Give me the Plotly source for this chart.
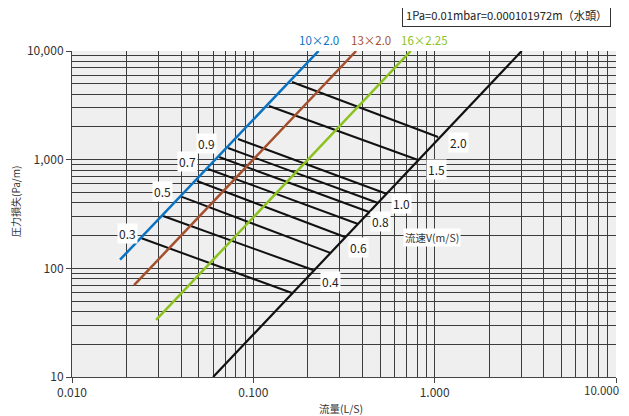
import plotly.graph_objects as go

# ---------------- data ----------------
pipe_names = ["10×2.0", "13×2.0", "16×2.25"]
pipe_q = [[0.0184, 0.229], [0.0220, 0.369], [0.0291, 0.738]]
pipe_r = [[120, 10000], [70, 10000], [33.5, 10000]]
pipe_colors = ["#0a72c2", "#a4502e", "#8cc21f"]

ref_q = [0.060, 3.02]
ref_r = [10, 10000]

vel_labels = ["0.3", "0.4", "0.5", "0.6", "0.7", "0.8", "0.9", "1.0", "1.5", "2.0"]
vel_q_start = [0.0240, 0.0318, 0.0404, 0.0489, 0.0563, 0.0647, 0.0725, 0.0823, 0.122, 0.1635]
vel_r_start = [190, 303, 454, 637, 821, 1058, 1281, 1550, 3118, 5184]
vel_q_end = [0.1635, 0.2135, 0.268, 0.320, 0.378, 0.435, 0.487, 0.546, 0.810, 1.044]
vel_r_end = [59.3, 96.5, 138, 194, 256, 330, 399, 483, 993, 1617]

x_tickvals = [0.01, 0.1, 1, 10]
x_ticktext = ["0.010", "0.100", "1.000", "10.000"]
y_tickvals = [10, 100, 1000, 10000]
y_ticktext = ["10", "100", "1,000", "10,000"]

# page body has an 8px margin, so the figure is offset by 8px
OFF = 8
PL, PR, PT, PB = 72, 616, 51, 377          # plot box in page pixels
PW, PH = PR - PL, PB - PT
W, H = 629, 416
ML, MT = PL - OFF, PT - OFF
MR = W - ML - PW
MB = H - MT - PH


def px(xpix, ypix):
    return (xpix - PL) / PW, (PB - ypix) / PH


FONT = "Noto Sans CJK JP"
fig = go.Figure()

for i in range(len(vel_labels)):
    fig.add_trace(go.Scatter(x=[vel_q_start[i], vel_q_end[i]], y=[vel_r_start[i], vel_r_end[i]],
                             mode="lines", line=dict(color="#111111", width=2), showlegend=False,
                             hoverinfo="skip"))

fig.add_trace(go.Scatter(x=ref_q, y=ref_r, mode="lines", line=dict(color="#111111", width=2.2),
                         showlegend=False, hoverinfo="skip"))

for name, q, r, c in zip(pipe_names, pipe_q, pipe_r, pipe_colors):
    fig.add_trace(go.Scatter(x=q, y=r, mode="lines", name=name, line=dict(color=c, width=2.5),
                             showlegend=False))

annotations = []


def add_text(xpix, ypix, text, size, color, **kw):
    xp, yp = px(xpix, ypix)
    d = dict(x=xp, y=yp, xref="paper", yref="paper", text=text, showarrow=False,
             xanchor="center", yanchor="middle",
             font=dict(family=FONT, size=size, color=color))
    d.update(kw)
    annotations.append(d)


left_pos = {"0.3": (127, 233), "0.5": (162, 191), "0.7": (187, 161), "0.9": (206, 143)}
right_pos = {"0.4": (330, 281), "0.6": (358, 247), "0.8": (380, 221), "1.0": (401, 204),
             "1.5": (436, 169), "2.0": (458, 142)}
for lab in vel_labels:
    p = left_pos.get(lab) or right_pos.get(lab)
    add_text(p[0], p[1], lab, 12, "#222", bgcolor="white", borderpad=1)

add_text(432, 237, "流速V(m/S)", 10.5, "#333", bgcolor="white", borderpad=1)

for name, c, cx in zip(pipe_names, pipe_colors, [318.5, 370.5, 424.5]):
    add_text(cx, 40, name, 11.5, c)

add_text(506, 15, "1Pa=0.01mbar=0.000101972m（水頭）", 11.2, "#222",
         bgcolor="white", bordercolor="#333", borderwidth=1, borderpad=3)

add_text(341, 408, "流量(L/S)", 10.5, "#333")
add_text(15, 202, "圧力損失(Pa/m)", 10, "#333", textangle=-90)

# last x tick label sits shifted left in the original so it fits the page
add_text(601, 390, x_ticktext[-1], 11.5, "#333")
x_ticktext_axis = x_ticktext[:-1] + [""]

GRID = "#3c3c3c"
axis_common = dict(type="log", showgrid=True, gridcolor=GRID, gridwidth=1,
                   ticks="outside", ticklen=5, tickcolor="#444", tickwidth=1,
                   showline=True, linecolor="#444", linewidth=1, zeroline=False,
                   tickfont=dict(family=FONT, size=12, color="#333"),
                   minor=dict(dtick="D1", showgrid=True, gridcolor=GRID, gridwidth=1, ticks=""))

fig.update_xaxes(range=[-2, 1], tickmode="array", tickvals=x_tickvals, ticktext=x_ticktext_axis,
                 **axis_common)
fig.update_yaxes(range=[1, 4], tickmode="array", tickvals=y_tickvals, ticktext=y_ticktext,
                 **axis_common)

fig.update_layout(width=W, height=H, margin=dict(l=ML, r=MR, t=MT, b=MB, autoexpand=False),
                  plot_bgcolor="#efefef", paper_bgcolor="white",
                  annotations=annotations, showlegend=False,
                  font=dict(family=FONT, size=11, color="#333"))

fig.write_html("out.html")
